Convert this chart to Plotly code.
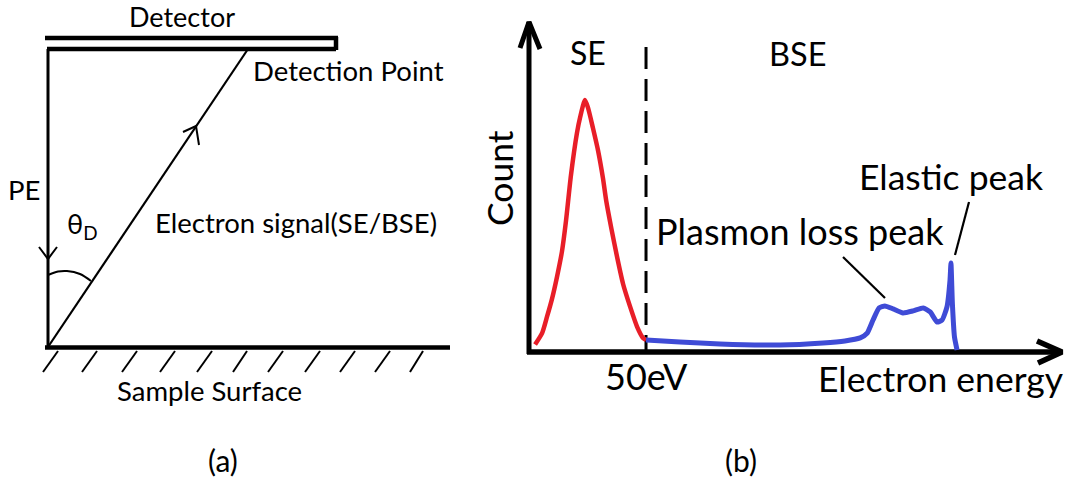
import plotly.graph_objects as go

W, H = 1067, 479

# ---------------- Panel (b): energy spectrum ----------------
# electron energy (eV) and count (arbitrary units, SE peak = 1)
se_energy = [2.6, 5.6, 7.7, 9.8, 12.0, 14.1, 15.8, 17.9, 20.5, 21.8, 23.9,
             25.2, 27.3, 29.5, 31.6, 33.0, 35.2, 37.8, 40.2, 43.2, 46.2, 48.7, 50.0]
se_count = [0.03, 0.075, 0.14, 0.21, 0.30, 0.40, 0.52, 0.70, 0.87, 0.93, 1.0,
            0.97, 0.89, 0.80, 0.69, 0.60, 0.49, 0.37, 0.27, 0.18, 0.10, 0.056, 0.048]

bse_energy = [50.0, 64.5, 81.6, 107.3, 125.6, 135.0, 141.5, 144.5, 147.0, 149.6, 152.1,
              155.6, 159.8, 164.1, 168.4, 171.4, 174.4, 176.5, 178.6, 179.9, 180.3,
              180.9, 181.8, 182.9]
bse_count = [0.048, 0.040, 0.032, 0.028, 0.036, 0.044, 0.056, 0.075, 0.127, 0.175, 0.183,
             0.171, 0.155, 0.163, 0.175, 0.159, 0.119, 0.127, 0.179, 0.286, 0.353,
             0.194, 0.060, 0.008]

se_limit_ev = 50
axis_energy_max = 228.6
axis_count_max = 1.31
dash_top_count = 1.246

# ---------------- Panel (a): geometry of the measurement ----------------
detector_top = ([45, 338], [38, 38])
detector_bottom = ([47, 336], [49, 49])
detector_edge = ([336, 336], [37, 50])
pe_beam = ([48, 48], [49, 347])
signal_path = ([48, 248], [347, 49])
surface = ([45, 450], [347.5, 347.5])
hatch_top_x = [58, 97, 137, 175, 212, 247, 283, 320, 355, 390, 423]
hatch_bottom_x = [43, 82, 122, 160, 197, 233, 268, 305, 340, 375, 410]
hatch_y = (351, 372)
pe_arrow = ([39, 48, 57], [247, 259, 247])
signal_arrow = ([183, 196, 199], [132, 126, 145])
angle_arc = ([48, 58, 67, 80, 91], [275, 271.5, 271, 274, 281])

# panel (b) axis arrows, canvas pixels
count_axis = ([529, 529], [354, 22])
count_arrow = ([520, 529, 540], [48, 22, 49])
energy_axis = ([527, 1062], [352, 352])
energy_arrow = ([1037, 1062, 1038], [341, 352, 363])
plasmon_leader = ([843, 885], [257, 298])
elastic_leader = ([969, 955], [202, 255])

FONT = "Lato"
BLACK = "#000000"
RED = "#e81e28"
BLUE = "#3f4bd6"

fig = go.Figure()

def seg(xs, ys, width, color=BLACK):
    fig.add_trace(go.Scatter(x=xs, y=ys, mode="lines", xaxis="x", yaxis="y",
                             line=dict(color=color, width=width),
                             hoverinfo="skip", showlegend=False))

seg(*detector_top, 4.5)
seg(*detector_bottom, 4.5)
seg(*detector_edge, 4.5)
seg(*pe_beam, 3)
seg(*signal_path, 2.2)
seg(*surface, 4.5)
for xt, xb in zip(hatch_top_x, hatch_bottom_x):
    seg([xb, xt], [hatch_y[1], hatch_y[0]], 2)
seg(*pe_arrow, 2)
seg(*signal_arrow, 2)
fig.add_trace(go.Scatter(x=angle_arc[0], y=angle_arc[1], mode="lines",
                         line=dict(color=BLACK, width=2, shape="spline"),
                         hoverinfo="skip", showlegend=False))

seg(*count_axis, 5)
seg(*count_arrow, 5)
seg(*energy_axis, 5.5)
seg(*energy_arrow, 5.5)
seg(*plasmon_leader, 2.2)
seg(*elastic_leader, 2.2)

# SE / BSE boundary
fig.add_trace(go.Scatter(x=[se_limit_ev, se_limit_ev], y=[-0.02, dash_top_count],
                         mode="lines", xaxis="x2", yaxis="y2",
                         line=dict(color=BLACK, width=3, dash="22px,10px"),
                         hoverinfo="skip", showlegend=False))
fig.add_trace(go.Scatter(x=se_energy, y=se_count, mode="lines", xaxis="x2", yaxis="y2",
                         line=dict(color=RED, width=4.5, shape="spline", smoothing=0.6),
                         hoverinfo="skip", showlegend=False))
fig.add_trace(go.Scatter(x=bse_energy, y=bse_count, mode="lines", xaxis="x2", yaxis="y2",
                         line=dict(color=BLUE, width=5, shape="spline", smoothing=0.5),
                         hoverinfo="skip", showlegend=False))

def label(text, x, y, size, xref="x", yref="y", angle=0):
    fig.add_annotation(text=text, x=x, y=y, xref=xref, yref=yref, showarrow=False,
                       xanchor="center", yanchor="middle", textangle=angle,
                       font=dict(family=FONT, size=size, color=BLACK))

label("Detector", 182, 16, 27)
label("Detection Point", 348, 70, 27.5)
label("PE", 24, 189, 27.5)
label("θ<sub>D</sub>", 82, 225, 27)
label("Electron signal(SE/BSE)", 296, 222, 27.5)
label("Sample Surface", 209, 390, 27.5)
label("(a)", 223, 460, 30)

label("SE", 588, 52, 32)
label("BSE", 797, 53, 32.5)
label("Count", 499, 178, 35.5, angle=-90)
label("Plasmon loss peak", 800, 231, 36)
label("Elastic peak", 951, 176, 35.5)
label("50eV", se_limit_ev, 376, 36, xref="x2")
label("Electron energy", 941, 378, 35.5)
label("(b)", 741, 460, 30)

fig.update_layout(
    width=W, height=H, margin=dict(l=0, r=0, t=0, b=0),
    paper_bgcolor="white", plot_bgcolor="rgba(0,0,0,0)",
    xaxis=dict(range=[0, W], domain=[0, 1], visible=False),
    yaxis=dict(range=[H, 0], domain=[0, 1], visible=False),
    xaxis2=dict(range=[0, axis_energy_max], domain=[529 / W, 1064 / W],
                anchor="y2", visible=False),
    yaxis2=dict(range=[0, axis_count_max], domain=[(H - 352) / H, (H - 22) / H],
                anchor="x2", visible=False),
)

fig.write_html("out.html")
